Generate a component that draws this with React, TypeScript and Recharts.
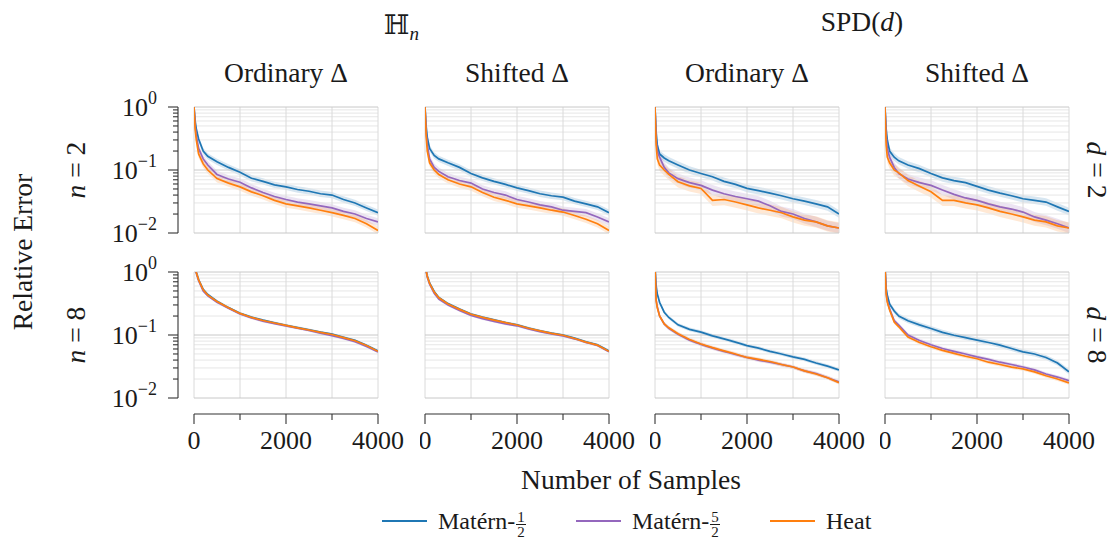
import React from "react"
import { ComposedChart, Line, Area, XAxis, YAxis, ReferenceLine } from "recharts"

const samples = [0, 25, 50, 100, 200, 300, 500, 750, 1000, 1250, 1500, 1750, 2000, 2250, 2500, 2750, 3000, 3250, 3500, 3750, 4000]

// H_n, ordinary Laplacian, n = 2
const hOrdN2Matern12 = [1.0, 0.6, 0.45, 0.31, 0.2, 0.165, 0.135, 0.11, 0.092, 0.074, 0.066, 0.058, 0.054, 0.049, 0.046, 0.042, 0.04, 0.034, 0.03, 0.025, 0.021]
const hOrdN2Matern52 = [1.0, 0.5, 0.35, 0.22, 0.15, 0.12, 0.085, 0.072, 0.064, 0.052, 0.044, 0.038, 0.034, 0.031, 0.029, 0.027, 0.025, 0.022, 0.02, 0.017, 0.015]
const hOrdN2Heat = [1.0, 0.45, 0.3, 0.18, 0.125, 0.1, 0.073, 0.062, 0.054, 0.045, 0.039, 0.033, 0.029, 0.027, 0.025, 0.023, 0.021, 0.019, 0.017, 0.014, 0.011]
// H_n, shifted Laplacian, n = 2
const hShiftN2Matern12 = [1.0, 0.5, 0.33, 0.22, 0.17, 0.15, 0.13, 0.11, 0.088, 0.075, 0.066, 0.059, 0.052, 0.047, 0.042, 0.039, 0.037, 0.032, 0.029, 0.026, 0.021]
const hShiftN2Matern52 = [1.0, 0.4, 0.25, 0.15, 0.11, 0.095, 0.078, 0.068, 0.062, 0.05, 0.044, 0.04, 0.034, 0.031, 0.028, 0.026, 0.023, 0.022, 0.021, 0.018, 0.015]
const hShiftN2Heat = [1.0, 0.35, 0.2, 0.13, 0.1, 0.085, 0.07, 0.06, 0.054, 0.044, 0.037, 0.033, 0.029, 0.027, 0.025, 0.023, 0.0215, 0.019, 0.0165, 0.014, 0.011]
// SPD(d), ordinary Laplacian, d = 2
const spdOrdD2Matern12 = [1.0, 0.4, 0.25, 0.18, 0.155, 0.14, 0.12, 0.1, 0.088, 0.078, 0.066, 0.059, 0.051, 0.047, 0.043, 0.039, 0.035, 0.032, 0.029, 0.026, 0.02]
const spdOrdD2Matern52 = [1.0, 0.3, 0.2, 0.16, 0.11, 0.09, 0.073, 0.063, 0.057, 0.048, 0.042, 0.038, 0.035, 0.032, 0.027, 0.022, 0.02, 0.017, 0.015, 0.013, 0.012]
const spdOrdD2Heat = [1.0, 0.25, 0.15, 0.12, 0.1, 0.085, 0.065, 0.056, 0.051, 0.033, 0.034, 0.031, 0.028, 0.025, 0.023, 0.021, 0.018, 0.016, 0.015, 0.013, 0.012]
// SPD(d), shifted Laplacian, d = 2
const spdShiftD2Matern12 = [1.0, 0.45, 0.3, 0.2, 0.16, 0.14, 0.12, 0.105, 0.088, 0.075, 0.068, 0.063, 0.055, 0.048, 0.043, 0.039, 0.035, 0.033, 0.031, 0.026, 0.022]
const spdShiftD2Matern52 = [1.0, 0.35, 0.22, 0.16, 0.11, 0.088, 0.072, 0.063, 0.057, 0.048, 0.041, 0.036, 0.033, 0.029, 0.026, 0.024, 0.0215, 0.018, 0.016, 0.014, 0.012]
const spdShiftD2Heat = [1.0, 0.25, 0.16, 0.13, 0.1, 0.09, 0.068, 0.055, 0.045, 0.033, 0.033, 0.03, 0.028, 0.025, 0.022, 0.02, 0.018, 0.016, 0.015, 0.013, 0.012]

// H_n, ordinary Laplacian, n = 8
const hOrdN8Matern12 = [1.5, 1.16, 0.99, 0.76, 0.53, 0.44, 0.345, 0.272, 0.222, 0.192, 0.172, 0.156, 0.143, 0.131, 0.121, 0.111, 0.103, 0.092, 0.082, 0.069, 0.056]
const hOrdN8Matern52 = [1.5, 1.13, 0.96, 0.73, 0.5, 0.42, 0.33, 0.265, 0.215, 0.186, 0.166, 0.152, 0.139, 0.128, 0.118, 0.107, 0.098, 0.088, 0.078, 0.066, 0.054]
const hOrdN8Heat = [1.5, 1.15, 0.98, 0.75, 0.52, 0.43, 0.34, 0.27, 0.22, 0.19, 0.17, 0.155, 0.142, 0.13, 0.12, 0.11, 0.102, 0.091, 0.081, 0.068, 0.055]
// H_n, shifted Laplacian, n = 8
const hShiftN8Matern12 = [1.4, 1.06, 0.86, 0.67, 0.49, 0.395, 0.315, 0.258, 0.215, 0.192, 0.174, 0.158, 0.145, 0.129, 0.117, 0.107, 0.1, 0.089, 0.078, 0.07, 0.056]
const hShiftN8Matern52 = [1.4, 1.03, 0.83, 0.64, 0.46, 0.37, 0.3, 0.245, 0.205, 0.182, 0.165, 0.15, 0.14, 0.125, 0.113, 0.104, 0.097, 0.087, 0.076, 0.068, 0.054]
const hShiftN8Heat = [1.4, 1.05, 0.85, 0.66, 0.48, 0.39, 0.31, 0.255, 0.213, 0.19, 0.172, 0.157, 0.144, 0.128, 0.116, 0.106, 0.099, 0.088, 0.077, 0.069, 0.055]
// SPD(d), ordinary Laplacian, d = 8
const spdOrdD8Matern12 = [1.2, 0.6, 0.45, 0.33, 0.23, 0.19, 0.145, 0.123, 0.111, 0.097, 0.087, 0.077, 0.068, 0.062, 0.055, 0.05, 0.045, 0.041, 0.036, 0.032, 0.028]
const spdOrdD8Matern52 = [1.2, 0.36, 0.28, 0.2, 0.15, 0.128, 0.103, 0.083, 0.071, 0.062, 0.055, 0.049, 0.044, 0.04, 0.037, 0.034, 0.031, 0.027, 0.0245, 0.021, 0.018]
const spdOrdD8Heat = [1.2, 0.35, 0.27, 0.2, 0.15, 0.13, 0.105, 0.085, 0.072, 0.063, 0.056, 0.05, 0.044, 0.041, 0.038, 0.034, 0.031, 0.027, 0.024, 0.021, 0.0175]
// SPD(d), shifted Laplacian, d = 8
const spdShiftD8Matern12 = [1.2, 0.55, 0.43, 0.31, 0.24, 0.2, 0.168, 0.145, 0.127, 0.11, 0.099, 0.091, 0.083, 0.076, 0.069, 0.061, 0.054, 0.05, 0.044, 0.036, 0.026]
const spdShiftD8Matern52 = [1.2, 0.47, 0.35, 0.26, 0.17, 0.143, 0.1, 0.082, 0.07, 0.061, 0.055, 0.05, 0.045, 0.041, 0.037, 0.034, 0.031, 0.028, 0.024, 0.0215, 0.0188]
const spdShiftD8Heat = [1.2, 0.45, 0.33, 0.25, 0.16, 0.135, 0.093, 0.076, 0.065, 0.057, 0.051, 0.046, 0.042, 0.037, 0.034, 0.031, 0.029, 0.026, 0.0225, 0.02, 0.0174]

// half-width of the shaded band, in decades (blue, purple, orange)
const bandN2 = [0.05, 0.06, 0.06]
const bandD2 = [0.06, 0.08, 0.09]
const bandN8 = [0.02, 0.02, 0.02]
const bandD8Ord = [0.03, 0.03, 0.03]
const bandD8Shift = [0.04, 0.03, 0.03]

const panels = [
  { row: 0, col: 0, series: [hOrdN2Matern12, hOrdN2Matern52, hOrdN2Heat], band: bandN2 },
  { row: 0, col: 1, series: [hShiftN2Matern12, hShiftN2Matern52, hShiftN2Heat], band: bandN2 },
  { row: 0, col: 2, series: [spdOrdD2Matern12, spdOrdD2Matern52, spdOrdD2Heat], band: bandD2 },
  { row: 0, col: 3, series: [spdShiftD2Matern12, spdShiftD2Matern52, spdShiftD2Heat], band: bandD2 },
  { row: 1, col: 0, series: [hOrdN8Matern12, hOrdN8Matern52, hOrdN8Heat], band: bandN8 },
  { row: 1, col: 1, series: [hShiftN8Matern12, hShiftN8Matern52, hShiftN8Heat], band: bandN8 },
  { row: 1, col: 2, series: [spdOrdD8Matern12, spdOrdD8Matern52, spdOrdD8Heat], band: bandD8Ord },
  { row: 1, col: 3, series: [spdShiftD8Matern12, spdShiftD8Matern52, spdShiftD8Heat], band: bandD8Shift },
]

const colors = ["#1f77b4", "#9467bd", "#ff7f0e"]
const keys = ["b", "p", "o"]

const FONT = '"Liberation Serif", "DejaVu Serif", serif'
const INK = "#1a1a1a"
const PLOT_W = 184
const PLOT_H = 126
const plotLefts = [194, 425, 655, 885]
const plotTops = [107, 272]
const Y_AXIS_W = 110
const TOP_PAD = 28

const majorY = [0.01, 0.1, 1]
const minorY = [0.02, 0.03, 0.04, 0.05, 0.06, 0.07, 0.08, 0.09, 0.2, 0.3, 0.4, 0.5, 0.6, 0.7, 0.8, 0.9]
const yTicks = [...majorY, ...minorY].sort((a, b) => a - b)
const xTicks = [0, 1000, 2000, 3000, 4000]
const expLabel: Record<string, string> = { "1": "0", "0.1": "\u22121", "0.01": "\u22122" }

function YTick(props: any) {
  const { x, y, payload } = props
  const major = majorY.includes(payload.value)
  const x0 = x - 16
  return (
    <g>
      <line x1={x0 - (major ? 10 : 5)} x2={x0} y1={y} y2={y} stroke="#333" strokeWidth={1.1} />
      {major && (
        <text x={x0 - 21} y={y + 9} textAnchor="end" fontFamily={FONT} fontSize={26} fill={INK}>
          10<tspan dy={-12} fontSize={18}>{expLabel[String(payload.value)]}</tspan>
        </text>
      )}
    </g>
  )
}

function XTick(props: any) {
  const { x, y, payload } = props
  const major = payload.value % 2000 === 0
  const y0 = y + 16
  return (
    <g>
      <line x1={x} x2={x} y1={y0} y2={y0 + (major ? 10 : 6)} stroke="#333" strokeWidth={1.1} />
      {major && (
        <text x={x} y={y + 51} textAnchor="middle" fontFamily={FONT} fontSize={26} fill={INK}>
          {payload.value}
        </text>
      )}
    </g>
  )
}

function Panel({ row, col, series, band }: any) {
  const data = samples.map((s, i) => {
    const d: any = { x: s }
    keys.forEach((k, j) => {
      const v = series[j][i]
      const f = Math.pow(10, band[j])
      d[k] = v
      d[k + "Band"] = [v / f, v * f]
    })
    return d
  })
  const showY = col === 0
  const showX = row === 1
  const left = plotLefts[col] - (showY ? Y_AXIS_W : 5)
  const top = plotTops[row] - TOP_PAD
  const width = (showY ? Y_AXIS_W : 5) + PLOT_W + 35
  const height = TOP_PAD + PLOT_H + (showX ? 60 : 22)
  return (
    <div style={{ position: "absolute", left, top }}>
      <ComposedChart
        width={width}
        height={height}
        data={data}
        margin={{ top: TOP_PAD, right: 35, bottom: showX ? 0 : 22, left: showY ? 0 : 5 }}
      >
        <XAxis
          dataKey="x"
          type="number"
          domain={[0, 4000]}
          allowDataOverflow
          ticks={xTicks}
          interval={0}
          hide={!showX}
          height={60}
          tickSize={0}
          tickMargin={0}
          tickLine={false}
          tick={(p: any) => <XTick {...p} />}
          axisLine={{ stroke: "#333", strokeWidth: 1.1, transform: "translate(0,16)" }}
        />
        <YAxis
          type="number"
          scale="log"
          domain={[0.01, 1]}
          allowDataOverflow
          ticks={yTicks}
          interval={0}
          hide={!showY}
          width={Y_AXIS_W}
          tickSize={0}
          tickMargin={0}
          tickLine={false}
          tick={(p: any) => <YTick {...p} />}
          axisLine={{ stroke: "#333", strokeWidth: 1.1, transform: "translate(-16,0)" }}
        />
        {minorY.map((v) => (
          <ReferenceLine key={"m" + v} y={v} stroke="#e6e6e6" strokeWidth={1} />
        ))}
        {xTicks.map((v) => (
          <ReferenceLine key={"x" + v} x={v} stroke="#dadada" strokeWidth={1} />
        ))}
        {majorY.map((v) => (
          <ReferenceLine key={"M" + v} y={v} stroke="#c8c8c8" strokeWidth={1} />
        ))}
        {keys.map((k, j) => (
          <Area
            key={k + "Band"}
            dataKey={k + "Band"}
            stroke="none"
            fill={colors[j]}
            fillOpacity={0.18}
            isAnimationActive={false}
            activeDot={false}
          />
        ))}
        {keys.map((k, j) => (
          <Line
            key={k}
            dataKey={k}
            stroke={colors[j]}
            strokeWidth={1.7}
            dot={false}
            activeDot={false}
            isAnimationActive={false}
          />
        ))}
      </ComposedChart>
    </div>
  )
}

function Frac({ n, d }: { n: string; d: string }) {
  return (
    <span
      style={{
        display: "inline-flex",
        flexDirection: "column",
        alignItems: "center",
        fontSize: 15,
        lineHeight: "14px",
        marginLeft: 1,
        position: "relative",
        top: 3,
      }}
    >
      <span style={{ borderBottom: `1px solid ${INK}`, padding: "0 1px" }}>{n}</span>
      <span>{d}</span>
    </span>
  )
}

const legendItems = [
  { label: "Matérn-", frac: ["1", "2"], color: colors[0], left: 382 },
  { label: "Matérn-", frac: ["5", "2"], color: colors[1], left: 576 },
  { label: "Heat", frac: null, color: colors[2], left: 770 },
]

export default function App() {
  const colCenters = plotLefts.map((l) => l + PLOT_W / 2)
  const rowCenters = plotTops.map((t) => t + PLOT_H / 2)
  const txt = { fontFamily: FONT, fill: INK }
  return (
    <div style={{ position: "absolute", left: 0, top: 0, width: 1120, height: 538, background: "#fff", overflow: "hidden" }}>
      {panels.map((p) => (
        <Panel key={p.row + "-" + p.col} {...p} />
      ))}
      <svg width={1120} height={538} style={{ position: "absolute", left: 0, top: 0, pointerEvents: "none" }}>
        <text x={(colCenters[0] + colCenters[1]) / 2} y={34} textAnchor="middle" fontSize={27} {...txt}>
          {"\u210D"}
          <tspan fontStyle="italic" fontSize={19} dy={6}>n</tspan>
        </text>
        <text x={(colCenters[2] + colCenters[3]) / 2} y={31} textAnchor="middle" fontSize={27.5} {...txt}>
          SPD(<tspan fontStyle="italic">d</tspan>)
        </text>
        {["Ordinary \u0394", "Shifted \u0394", "Ordinary \u0394", "Shifted \u0394"].map((t, i) => (
          <text key={i} x={colCenters[i]} y={82} textAnchor="middle" fontSize={27.5} {...txt}>
            {t}
          </text>
        ))}
        {["2", "8"].map((n, i) => (
          <text
            key={"n" + n}
            x={75}
            y={rowCenters[i]}
            transform={`rotate(-90, 75, ${rowCenters[i]})`}
            textAnchor="middle"
            dominantBaseline="central"
            fontSize={27.5}
            {...txt}
          >
            <tspan fontStyle="italic">n</tspan> = {n}
          </text>
        ))}
        {["2", "8"].map((n, i) => (
          <text
            key={"d" + n}
            x={1097}
            y={rowCenters[i]}
            transform={`rotate(90, 1097, ${rowCenters[i]})`}
            textAnchor="middle"
            dominantBaseline="central"
            fontSize={27.5}
            {...txt}
          >
            <tspan fontStyle="italic">d</tspan> = {n}
          </text>
        ))}
        <text
          x={22}
          y={252}
          transform="rotate(-90, 22, 252)"
          textAnchor="middle"
          dominantBaseline="central"
          fontSize={27.5}
          {...txt}
        >
          Relative Error
        </text>
        <text x={631} y={489} textAnchor="middle" fontSize={27.5} {...txt}>
          Number of Samples
        </text>
      </svg>
      {legendItems.map((it, i) => (
        <div
          key={i}
          style={{
            position: "absolute",
            left: it.left,
            top: 506,
            height: 30,
            display: "flex",
            alignItems: "center",
            fontFamily: FONT,
            fontSize: 24,
            color: INK,
            whiteSpace: "nowrap",
          }}
        >
          <span style={{ display: "inline-block", width: 45, height: 2, background: it.color, marginRight: 11 }} />
          <span>{it.label}</span>
          {it.frac && <Frac n={it.frac[0]} d={it.frac[1]} />}
        </div>
      ))}
    </div>
  )
}
